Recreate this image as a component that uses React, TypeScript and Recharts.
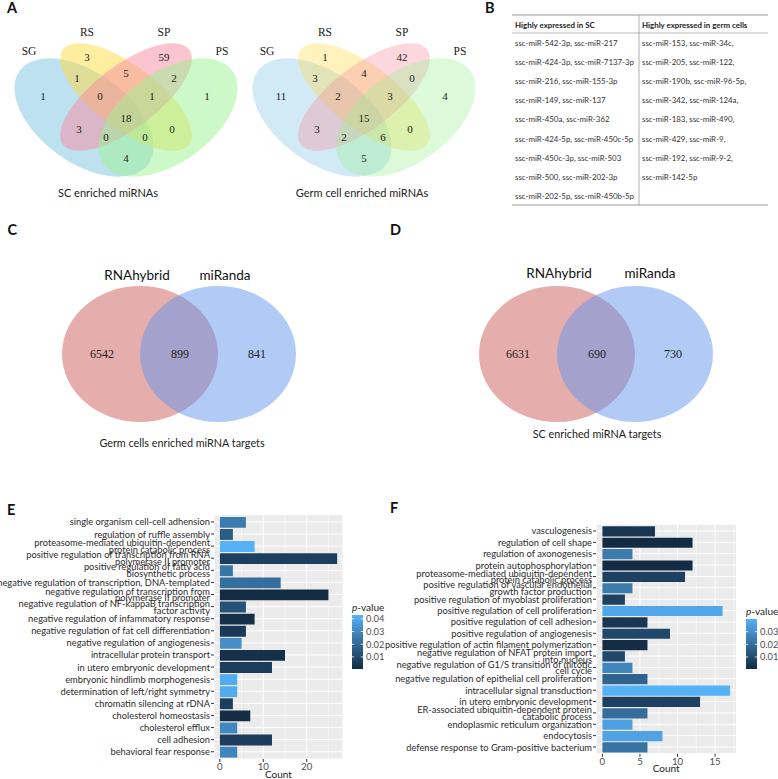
import React from 'react';
import { BarChart, Bar, XAxis, YAxis, CartesianGrid, Cell } from 'recharts';

const SANS = 'Lato, "Open Sans", Arial, sans-serif';
const SERIF = '"Liberation Serif", "DejaVu Serif", serif';

// A: four-set Venn diagrams
const vennSets = ['SG', 'RS', 'SP', 'PS'];
const scVennCounts = [1, 3, 59, 1, 1, 5, 2, 0, 1, 18, 3, 0, 0, 0, 4];
const germVennCounts = [11, 1, 42, 4, 3, 4, 0, 2, 3, 15, 3, 2, 6, 0, 5];

// B: table of miRNAs
const tableHeaders = ['Highly expressed in SC', 'Highly expressed in germ cells'];
const scMirs = [
  'ssc-miR-542-3p, ssc-miR-217',
  'ssc-miR-424-3p, ssc-miR-7137-3p',
  'ssc-miR-216, ssc-miR-155-3p',
  'ssc-miR-149, ssc-miR-137',
  'ssc-miR-450a, ssc-miR-362',
  'ssc-miR-424-5p, ssc-miR-450c-5p',
  'ssc-miR-450c-3p, ssc-miR-503',
  'ssc-miR-500, ssc-miR-202-3p',
  'ssc-miR-202-5p, ssc-miR-450b-5p',
];
const germMirs = [
  'ssc-miR-153, ssc-miR-34c,',
  'ssc-miR-205, ssc-miR-122,',
  'ssc-miR-190b, ssc-miR-96-5p,',
  'ssc-miR-342, ssc-miR-124a,',
  'ssc-miR-183, ssc-miR-490,',
  'ssc-miR-429, ssc-miR-9,',
  'ssc-miR-192, ssc-miR-9-2,',
  'ssc-miR-142-5p',
];

// C / D: target prediction overlap
const targetTools = ['RNAhybrid', 'miRanda'];
const germTargetCounts = [6542, 899, 841];
const scTargetCounts = [6631, 690, 730];

// E: GO terms, germ cell enriched miRNA targets
const eTerms = [
  'single organism cell-cell adhension',
  'regulation of ruffle assembly',
  'proteasome-mediated ubiquitin-dependent\nprotein catabolic process',
  'positive regulation of transcription from RNA\npolymerase II promoter',
  'positive regulation of fatty acid\nbiosynthetic process',
  'negative regulation of transcription, DNA-templated',
  'negative regulation of transcription from\npolymerase II promoter',
  'negative regulation of NF-kappaB transcription\nfactor activity',
  'negative regulation of infammatory response',
  'negative regulation of fat cell differentiation',
  'negative regulation of angiogenesis',
  'intracellular protein transport',
  'in utero embryonic development',
  'embryonic hindlimb morphogenesis',
  'determination of left/right symmetry',
  'chromatin silencing at rDNA',
  'cholesterol homeostasis',
  'cholesterol efflux',
  'cell adhesion',
  'behavioral fear response',
];
const eCounts = [6, 3, 8, 27, 3, 14, 25, 6, 8, 6, 5, 15, 12, 4, 4, 3, 7, 4, 12, 4];
const ePvals = [0.026, 0.016, 0.043, 0.007, 0.024, 0.022, 0.0005, 0.013, 0.002, 0.005, 0.032, 0.002, 0.006, 0.041, 0.041, 0.007, 0.001, 0.03, 0.006, 0.029];

// F: GO terms, SC enriched miRNA targets
const fTerms = [
  'vasculogenesis',
  'regulation of  cell shape',
  'regulation of  axonogenesis',
  'protein autophosphorylation',
  'proteasome-mediated ubiquitin-dependent\nprotein catabolic process',
  'positive regulation of vascular endothelial\ngrowth factor production',
  'positive regulation of myoblast proliferation',
  'positive regulation of cell proliferation',
  'positive regulation of cell adhesion',
  'positive regulation of angiogenesis',
  'positive regulation of actin filament polymerization',
  'negative regulation of NFAT protein import\ninto nucleus',
  'negative regulation of G1/S transition of mitotic\ncell cycle',
  'negative regulation of epithelial cell proliferation',
  'intracellular signal transduction',
  'in utero embryonic development',
  'ER-associated ubiquitin-dependent protein\ncatabolic process',
  'endoplasmic reticulum organization',
  'endocytosis',
  'defense response to Gram-positive bacterium',
];
const fCounts = [7, 12, 4, 12, 11, 4, 3, 16, 6, 9, 6, 3, 4, 6, 17, 13, 6, 4, 8, 6];
const fPvals = [0.004, 0.0005, 0.024, 0.001, 0.007, 0.024, 0.007, 0.037, 0.004, 0.009, 0.001, 0.009, 0.027, 0.017, 0.04, 0.007, 0.02, 0.035, 0.036, 0.022];

// ggplot default continuous colour scale
const LOW = [19, 43, 67];
const HIGH = [86, 177, 247];
const pColor = (p: number, lo: number, hi: number) => {
  const t = Math.max(0, Math.min(1, (p - lo) / (hi - lo)));
  const c = LOW.map((v, i) => Math.round(v + (HIGH[i] - v) * t));
  return `rgb(${c[0]},${c[1]},${c[2]})`;
};

// layout of the four ellipses and region labels (panel A, first diagram)
const quadEllipses = [
  { cx: 84, cy: 117.5, rx: 79.5, ry: 45, rot: 36, fill: '#7dc3e1' },
  { cx: 126, cy: 97, rx: 79, ry: 31.5, rot: 37, fill: '#ffdb41' },
  { cx: 126, cy: 97, rx: 79, ry: 31.5, rot: -37, fill: '#f58b9f' },
  { cx: 168, cy: 117.5, rx: 79.5, ry: 45, rot: -36, fill: '#9bf191' },
];
const quadCountPos = [
  [43, 96], [87, 57], [164, 57], [207, 96], [77, 78], [126, 73], [174, 78], [100, 96],
  [152, 96], [126, 118], [79, 129], [106, 137], [145, 137], [172, 129], [126, 158],
];
const quadSetPos = [[29, 51], [87, 32], [164, 32], [222, 51]];

function Venn4({ dx, counts, caption, captionX, opacity }: { dx: number; counts: number[]; caption: string; captionX: number; opacity: number }) {
  return (
    <g>
      <g transform={`translate(${dx},0)`}>
        {quadEllipses.map((e, i) => (
          <ellipse key={i} cx={e.cx} cy={e.cy} rx={e.rx} ry={e.ry} fill={e.fill} fillOpacity={opacity}
            transform={`rotate(${e.rot} ${e.cx} ${e.cy})`} />
        ))}
        {counts.map((c, i) => (
          <text key={i} x={quadCountPos[i][0]} y={quadCountPos[i][1]} textAnchor="middle" dominantBaseline="central"
            fontFamily={SERIF} fontSize={11} fill="#222">{c}</text>
        ))}
        {vennSets.map((s, i) => (
          <text key={s} x={quadSetPos[i][0]} y={quadSetPos[i][1]} textAnchor="middle" dominantBaseline="central"
            fontFamily={SERIF} fontSize={11.5} fill="#222">{s}</text>
        ))}
      </g>
      <text x={captionX} y={192} textAnchor="middle" dominantBaseline="central" fontFamily={SANS} fontSize={11} fill="#222">{caption}</text>
    </g>
  );
}

function Venn2({ c1, c2, counts, countX, labelX, labelY, caption, captionX, captionY }: {
  c1: number; c2: number; counts: number[]; countX: number[]; labelX: number[]; labelY: number;
  caption: string; captionX: number; captionY: number;
}) {
  return (
    <g>
      <ellipse cx={c1} cy={354} rx={78} ry={68} fill="#cd5c5c" fillOpacity={0.5} />
      <ellipse cx={c2} cy={354} rx={78} ry={68} fill="#6495ed" fillOpacity={0.5} />
      {targetTools.map((t, i) => (
        <text key={t} x={labelX[i]} y={labelY} textAnchor="middle" dominantBaseline="central" fontFamily={SANS} fontSize={13.5} fill="#111">{t}</text>
      ))}
      {counts.map((c, i) => (
        <text key={i} x={countX[i]} y={354} textAnchor="middle" dominantBaseline="central" fontFamily={SERIF} fontSize={12} fill="#222">{c}</text>
      ))}
      <text x={captionX} y={captionY} textAnchor="middle" dominantBaseline="central" fontFamily={SANS} fontSize={10.8} fill="#222">{caption}</text>
    </g>
  );
}

function MirTable() {
  const rowY = (i: number) => 43 + i * 19.1;
  return (
    <g fontFamily={SANS} fill="#333">
      <line x1={512} x2={768} y1={15} y2={15} stroke="#999" strokeWidth={1.2} />
      <line x1={512} x2={768} y1={33} y2={33} stroke="#aaa" strokeWidth={0.8} />
      <line x1={512} x2={768} y1={205} y2={205} stroke="#999" strokeWidth={1.2} />
      <line x1={639} x2={639} y1={15} y2={205} stroke="#999" strokeWidth={0.8} />
      <text x={515} y={25} dominantBaseline="central" fontSize={7.9} fontWeight={700} fill="#222">{tableHeaders[0]}</text>
      <text x={642} y={25} dominantBaseline="central" fontSize={7.9} fontWeight={700} fill="#222">{tableHeaders[1]}</text>
      {scMirs.map((m, i) => (
        <text key={m} x={515} y={rowY(i)} dominantBaseline="central" fontSize={7.9}>{m}</text>
      ))}
      {germMirs.map((m, i) => (
        <text key={m} x={642} y={rowY(i)} dominantBaseline="central" fontSize={7.9}>{m}</text>
      ))}
    </g>
  );
}

function PLegend({ id, x, y, h, lo, hi, ticks }: { id: string; x: number; y: number; h: number; lo: number; hi: number; ticks: number[] }) {
  const ty = (v: number) => y + h - ((v - lo) / (hi - lo)) * h;
  return (
    <g fontFamily={SANS}>
      <defs>
        <linearGradient id={id} x1="0" y1="1" x2="0" y2="0">
          <stop offset="0" stopColor={pColor(lo, lo, hi)} />
          <stop offset="1" stopColor={pColor(hi, lo, hi)} />
        </linearGradient>
      </defs>
      <text x={x} y={y - 4} fontSize={10} fill="#222"><tspan fontStyle="italic">p</tspan>-value</text>
      <rect x={x} y={y} width={11} height={h} fill={`url(#${id})`} />
      {ticks.map((t) => (
        <g key={t}>
          <line x1={x} x2={x + 2.2} y1={ty(t)} y2={ty(t)} stroke="#fff" strokeWidth={0.8} />
          <line x1={x + 8.8} x2={x + 11} y1={ty(t)} y2={ty(t)} stroke="#fff" strokeWidth={0.8} />
          <text x={x + 14} y={ty(t)} dominantBaseline="central" fontSize={9.3} fill="#4d4d4d">{t.toFixed(2)}</text>
        </g>
      ))}
    </g>
  );
}

type GoProps = {
  terms: string[]; counts: number[]; pvals: number[];
  left: number; top: number; width: number; height: number;
  margin: { top: number; right: number; bottom: number; left: number };
  yWidth: number; domain: [number, number]; ticks: number[]; minorTicks: number[];
  yPad: number; barSize: number; fontSize: number; lineGap: number;
};

function GoBars(props: GoProps) {
  const { terms, counts, pvals, left, top, width, height, margin, yWidth, domain, ticks, minorTicks, yPad, barSize, fontSize, lineGap } = props;
  const lo = Math.min(...pvals);
  const hi = Math.max(...pvals);
  const data = terms.map((term, i) => ({ term, count: counts[i], p: pvals[i] }));

  const TermTick = (tp: any) => {
    const lines = String(tp.payload.value).split('\n');
    return (
      <text x={tp.x} y={tp.y} textAnchor="end" fontSize={fontSize} fontFamily={SANS} fill="#2b2b2b">
        {lines.map((l, i) => (
          <tspan key={i} x={tp.x} y={tp.y + (i - (lines.length - 1) / 2) * lineGap} dominantBaseline="central">{l}</tspan>
        ))}
      </text>
    );
  };

  return (
    <div style={{ position: 'absolute', left, top }}>
      <BarChart layout="vertical" width={width} height={height} data={data} margin={margin}>
        <CartesianGrid xAxisId="minor" horizontal={false} stroke="#fff" strokeWidth={0.5} fill="#EBEBEB" />
        <CartesianGrid stroke="#fff" strokeWidth={1} />
        <XAxis xAxisId="minor" type="number" domain={domain} ticks={minorTicks} allowDataOverflow hide />
        <XAxis
          type="number"
          domain={domain}
          ticks={ticks}
          allowDataOverflow
          axisLine={false}
          tickSize={3}
          tickMargin={1}
          height={20}
          tickLine={{ stroke: '#333' }}
          tick={{ fontSize: 9.6, fill: '#4d4d4d', fontFamily: SANS }}
          label={{ value: 'Count', position: 'insideBottom', offset: 1.5, fontSize: 10, fill: '#222', fontFamily: SANS }}
        />
        <YAxis
          type="category"
          dataKey="term"
          width={yWidth}
          interval={0}
          axisLine={false}
          tickSize={3}
          tickMargin={1}
          tickLine={{ stroke: '#333' }}
          padding={{ top: yPad, bottom: yPad }}
          tick={TermTick}
        />
        <Bar dataKey="count" barSize={barSize} isAnimationActive={false}>
          {data.map((d, i) => (
            <Cell key={i} fill={pColor(d.p, lo, hi)} />
          ))}
        </Bar>
      </BarChart>
    </div>
  );
}

const letterStyle = { fontFamily: SANS, fontSize: 14.5, fontWeight: 700, fill: '#111' } as const;

export default function App() {
  const eLo = Math.min(...ePvals), eHi = Math.max(...ePvals);
  const fLo = Math.min(...fPvals), fHi = Math.max(...fPvals);
  return (
    <div style={{ position: 'absolute', left: 0, top: 0, width: 778, height: 779, background: '#fff', overflow: 'hidden' }}>
      <svg width={778} height={779} style={{ position: 'absolute', left: 0, top: 0 }}>
        <text x={7} y={13} {...letterStyle}>A</text>
        <text x={485} y={13} {...letterStyle}>B</text>
        <text x={7.5} y={235} {...letterStyle}>C</text>
        <text x={390} y={235} {...letterStyle}>D</text>
        <text x={7} y={515} {...letterStyle}>E</text>
        <text x={390} y={513} {...letterStyle}>F</text>

        <Venn4 dx={0} counts={scVennCounts} caption="SC enriched miRNAs" captionX={108} opacity={0.5} />
        <Venn4 dx={238} counts={germVennCounts} caption="Germ cell enriched miRNAs" captionX={362} opacity={0.35} />
        <MirTable />

        <Venn2 c1={140} c2={218} counts={germTargetCounts} countX={[102, 180, 257]} labelX={[137, 225]} labelY={275}
          caption="Germ cells enriched miRNA targets" captionX={182} captionY={442} />
        <Venn2 c1={557} c2={635} counts={scTargetCounts} countX={[518, 597, 673]} labelX={[559, 650]} labelY={273}
          caption="SC enriched miRNA targets" captionX={597} captionY={433} />

        <PLegend id="gradE" x={352} y={615} h={54} lo={eLo} hi={eHi} ticks={[0.01, 0.02, 0.03, 0.04]} />
        <PLegend id="gradF" x={746} y={619} h={50} lo={fLo} hi={fHi} ticks={[0.01, 0.02, 0.03]} />
      </svg>

      <GoBars
        terms={eTerms} counts={eCounts} pvals={ePvals}
        left={0} top={500} width={390} height={279}
        margin={{ top: 14.7, right: 47, bottom: 0, left: 0 }}
        yWidth={214} domain={[-1.35, 28.35]} ticks={[0, 10, 20]} minorTicks={[5, 15, 25]}
        yPad={1.2} barSize={10.9} fontSize={9.3} lineGap={6.8}
      />
      <GoBars
        terms={fTerms} counts={fCounts} pvals={fPvals}
        left={375} top={460} width={403} height={319}
        margin={{ top: 64.2, right: 41.5, bottom: 5.2, left: 0 }}
        yWidth={221} domain={[-0.85, 17.85]} ticks={[0, 5, 10, 15]} minorTicks={[2.5, 7.5, 12.5, 17.5]}
        yPad={1.1} barSize={10.2} fontSize={9.3} lineGap={6.8}
      />
    </div>
  );
}
